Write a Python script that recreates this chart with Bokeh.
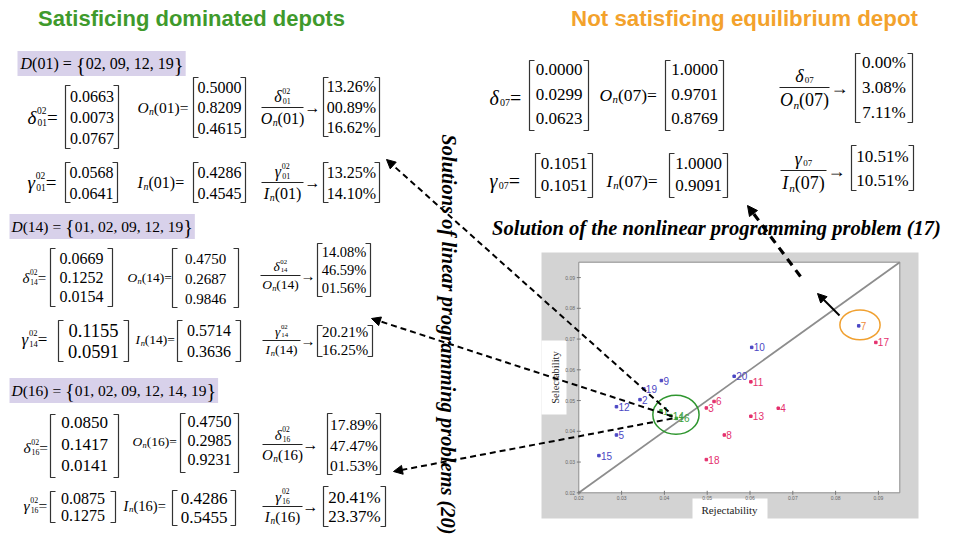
import math
from bokeh.plotting import figure
from bokeh.models import Range1d, ColumnDataSource, Arrow, NormalHead
from bokeh.core.properties import value
from bokeh.embed import file_html
from bokeh.resources import INLINE

# ---------------- data ----------------
dominated_01 = ["02", "09", "12", "19"]
dominated_14 = ["01", "02", "09", "12", "19"]
dominated_16 = ["01", "02", "09", "12", "14", "19"]

delta_01 = ["0.0663", "0.0073", "0.0767"]
on_01 = ["0.5000", "0.8209", "0.4615"]
ratio_delta_01 = ["13.26%", "00.89%", "16.62%"]
gamma_01 = ["0.0568", "0.0641"]
in_01 = ["0.4286", "0.4545"]
ratio_gamma_01 = ["13.25%", "14.10%"]

delta_14 = ["0.0669", "0.1252", "0.0154"]
on_14 = ["0.4750", "0.2687", "0.9846"]
ratio_delta_14 = ["14.08%", "46.59%", "01.56%"]
gamma_14 = ["0.1155", "0.0591"]
in_14 = ["0.5714", "0.3636"]
ratio_gamma_14 = ["20.21%", "16.25%"]

delta_16 = ["0.0850", "0.1417", "0.0141"]
on_16 = ["0.4750", "0.2985", "0.9231"]
ratio_delta_16 = ["17.89%", "47.47%", "01.53%"]
gamma_16 = ["0.0875", "0.1275"]
in_16 = ["0.4286", "0.5455"]
ratio_gamma_16 = ["20.41%", "23.37%"]

delta_07 = ["0.0000", "0.0299", "0.0623"]
on_07 = ["1.0000", "0.9701", "0.8769"]
ratio_delta_07 = ["0.00%", "3.08%", "7.11%"]
gamma_07 = ["0.1051", "0.1051"]
in_07 = ["1.0000", "0.9091"]
ratio_gamma_07 = ["10.51%", "10.51%"]

depot_ids = [1, 2, 3, 4, 5, 6, 7, 8, 9, 10, 11, 12, 13, 14, 15, 16, 17, 18, 19, 20]
rejectability = [0.0392, 0.0343, 0.0498, 0.0666, 0.0288, 0.0516, 0.0854, 0.0540, 0.0393, 0.0604,
                 0.0602, 0.0288, 0.0602, 0.0415, 0.0247, 0.0428, 0.0894, 0.0498, 0.0352, 0.0563]
selectability = [0.0467, 0.0503, 0.0476, 0.0475, 0.0388, 0.0497, 0.0743, 0.0388, 0.0565, 0.0673,
                 0.0561, 0.0480, 0.0449, 0.0451, 0.0321, 0.0442, 0.0689, 0.0308, 0.0538, 0.0579]
depot_status = ["dominated", "satisficing", "not", "not", "satisficing", "not", "equilibrium", "not",
                "satisficing", "satisficing", "not", "satisficing", "not", "dominated", "satisficing",
                "dominated", "not", "not", "satisficing", "satisficing"]
axis_ticks = [0.02, 0.03, 0.04, 0.05, 0.06, 0.07, 0.08, 0.09]
axis_tick_labels = ["0.02", "0.03", "0.04", "0.05", "0.06", "0.07", "0.08", "0.09"]

# ---------------- styles ----------------
SERIF = "Liberation Serif"
SANS = "Liberation Sans"
GREEN = "#3f9a2c"
ORANGE = "#f3a22c"
LAVENDER = "#d8d1ea"
BLUE = "#4b47c4"
PINK = "#e4306e"
DOT_COL = {"dominated": "#3aa23a", "satisficing": BLUE, "not": PINK, "equilibrium": BLUE}
LAB_COL = {"dominated": "#3aa23a", "satisficing": BLUE, "not": PINK, "equilibrium": "#f08a3a"}

FW, FH = 955, 544
p = figure(width=FW, height=FH, x_range=Range1d(0, FW), y_range=Range1d(FH, 0),
           output_backend="svg", toolbar_location=None, min_border=0,
           x_axis_location=None, y_axis_location=None, outline_line_color=None,
           background_fill_color="white", border_fill_color="white")
p.grid.visible = False

rows = dict(x=[], y=[], text=[], size=[], font=[], style=[], color=[], align=[], base=[], angle=[])


def T(x, y, s, size, style="normal", font=SERIF, color="black", align="left", base="middle", angle=0.0):
    rows["x"].append(x); rows["y"].append(y); rows["text"].append(s)
    rows["size"].append(f"{size:.1f}px"); rows["font"].append(font); rows["style"].append(style)
    rows["color"].append(color); rows["align"].append(align); rows["base"].append(base)
    rows["angle"].append(angle)


CW = {"0": .5, "1": .5, "2": .5, "3": .5, "4": .5, "5": .5, "6": .5, "7": .5, "8": .5, "9": .5,
      "(": .333, ")": .333, "=": .564, " ": .25, ".": .25, ",": .25, "%": .833, "{": .48, "}": .48,
      "δ": .5, "γ": .44, "O": .722, "I": .36, "n": .5, "D": .722}


def tw(s, size):
    return sum(CW.get(c, .5) for c in s) * size


def comp(parts, x, y, size, draw=True):
    """Compose an inline math expression; returns its width."""
    xc = x
    script_w = 0.0
    for text, kind in parts:
        if kind in ("it", "rm"):
            xc += script_w
            script_w = 0.0
            if draw:
                T(xc, y, text, size, "italic" if kind == "it" else "normal")
            xc += tw(text, size)
        elif kind == "sup":
            ss = size * 0.5
            if draw:
                T(xc, y - 0.36 * size, text, ss)
            script_w = max(script_w, tw(text, ss))
        elif kind in ("sub", "subit"):
            ss = size * (0.5 if kind == "sub" else 0.62)
            if draw:
                T(xc + 0.02 * size, y + 0.27 * size, text, ss, "italic" if kind == "subit" else "normal")
            script_w = max(script_w, tw(text, ss) + 0.02 * size)
    xc += script_w
    return xc - x


def dparts(sym, sup, sub):
    ps = [(sym, "it")]
    if sup:
        ps.append((sup, "sup"))
    ps.append((sub, "sub"))
    return ps


def nparts(sym, idx):
    return [(sym, "it"), ("n", "subit"), ("(" + idx + ")", "rm")]


EQ = [(" =", "rm")]

BX, BY = [], []


def matrix(x0, x1, y0, y1, vals, ys, size, arm=5):
    BX.append([x0 + arm, x0, x0, x0 + arm]); BY.append([y0, y0, y1, y1])
    BX.append([x1 - arm, x1, x1, x1 - arm]); BY.append([y0, y0, y1, y1])
    for v, yy in zip(vals, ys):
        T((x0 + x1) / 2, yy, v, size, align="center")


FX, FY = [], []


def frac(xc, yl, half, size, num, den):
    FX.append([xc - half, xc + half]); FY.append([yl, yl])
    wn = comp(num, 0, 0, size, draw=False)
    wd = comp(den, 0, 0, size, draw=False)
    comp(num, xc - wn / 2, yl - 0.66 * size, size)
    comp(den, xc - wd / 2, yl + 0.68 * size, size)


def arrow_sym(x, y, size):
    T(x, y, "→", size)


BOXES = dict(left=[], right=[], top=[], bottom=[])


def dset(x, y, idx, members, size, x_box):
    xc = x
    T(xc, y, "D", size, "italic"); xc += tw("D", size)
    head = "(" + idx + ") = "
    T(xc, y, head, size); xc += tw(head, size)
    T(xc, y + 0.5, "{", size * 1.3); xc += tw("{", size * 1.3)
    body = ", ".join(members)
    T(xc, y, body, size); xc += tw(body, size)
    T(xc, y + 0.5, "}", size * 1.3); xc += tw("}", size * 1.3)
    BOXES["left"].append(x_box); BOXES["right"].append(xc + 2)
    BOXES["top"].append(y - 12.5); BOXES["bottom"].append(y + 12.5)


# ---------------- titles ----------------
T(191, 18, "Satisficing dominated depots", 22, "bold", SANS, GREEN, "center")
T(744, 18, "Not satisficing equilibrium depot", 22.3, "bold", SANS, ORANGE, "center")

# ---------------- D sets ----------------
dset(20, 63, "01", dominated_01, 16, 17)
dset(11, 226, "14", dominated_14, 15.5, 9)
dset(11, 390, "16", dominated_16, 15.5, 9)
p.quad(left=BOXES["left"], right=BOXES["right"], top=BOXES["top"], bottom=BOXES["bottom"],
       fill_color=LAVENDER, line_color=None)

# ---------------- block D(01) ----------------
comp(dparts("δ", "02", "01") + EQ, 27, 117, 19)
matrix(65, 118, 85, 148, delta_01, [96, 117, 138], 16)
comp(nparts("O", "01") + EQ, 137, 107, 15.5)
matrix(193, 245, 77, 137, on_01, [87, 107, 128], 16)
frac(282, 107, 21, 16, dparts("δ", "02", "01"), nparts("O", "01"))
arrow_sym(304, 107, 16)
matrix(323, 379, 77, 136, ratio_delta_01, [86, 107, 127], 16)

comp(dparts("γ", "02", "01") + EQ, 27, 182, 19)
matrix(65, 117, 162, 202, gamma_01, [172, 193], 16)
comp(nparts("I", "01") + EQ, 137, 182, 16)
matrix(193, 245, 162, 202, in_01, [172, 193], 16)
frac(282, 182, 21, 16, dparts("γ", "02", "01"), nparts("I", "01"))
arrow_sym(304, 182, 16)
matrix(323, 379, 162, 202, ratio_gamma_01, [172, 193], 16)

# ---------------- block D(14) ----------------
comp(dparts("δ", "02", "14") + EQ, 22, 277, 15)
matrix(50, 112, 248, 306, delta_14, [258, 277, 296], 16)
comp(nparts("O", "14") + EQ, 127, 277, 13.5)
matrix(172, 238, 248, 307, on_14, [258, 278, 298], 15)
frac(280, 275, 20, 13.5, dparts("δ", "02", "14"), nparts("O", "14"))
arrow_sym(300, 275, 15)
matrix(317, 370, 243, 296, ratio_delta_14, [251, 269, 287], 14.5)

comp(dparts("γ", "02", "14") + EQ, 21, 339, 17)
matrix(58, 128, 320, 361, gamma_14, [330, 351], 18.5)
comp(nparts("I", "14") + EQ, 135, 339, 13.5)
matrix(177, 240, 320, 361, in_14, [330, 351], 16)
frac(281, 340, 19, 13.5, dparts("γ", "02", "14"), nparts("I", "14"))
arrow_sym(300, 340, 15)
matrix(317, 372, 325, 356, ratio_gamma_14, [331, 349], 15)

# ---------------- block D(16) ----------------
comp(dparts("δ", "02", "16") + EQ, 23, 447, 15.5)
matrix(50, 118, 414, 477, delta_16, [422, 444, 465], 17)
comp(nparts("O", "16") + EQ, 132, 441, 13.5)
matrix(180, 238, 413, 472, on_16, [421, 440, 459], 16)
frac(282, 444, 20, 15, dparts("δ", "02", "16"), nparts("O", "16"))
arrow_sym(302, 444, 16)
matrix(327, 380, 413, 474, ratio_delta_16, [424, 445, 465], 15.5)

comp(dparts("γ", "02", "16") + EQ, 23, 505, 15.5)
matrix(50, 115, 491, 522, gamma_16, [498, 515], 16)
comp(nparts("I", "16") + EQ, 123, 505, 14.5)
matrix(172, 235, 490, 525, in_16, [498, 517], 17)
frac(282, 506, 20, 15, dparts("γ", "02", "16"), nparts("I", "16"))
arrow_sym(302, 506, 16)
matrix(323, 385, 486, 526, ratio_gamma_16, [497, 516], 17)

# ---------------- block 07 ----------------
comp(dparts("δ", None, "07") + EQ, 489, 97, 20)
matrix(529, 588, 60, 130, delta_07, [69, 94, 118], 17)
comp(nparts("O", "07") + EQ, 599, 94, 17.5)
matrix(665, 723, 60, 130, on_07, [69, 94, 118], 17)
frac(804, 87, 25, 18, dparts("δ", None, "07"), nparts("O", "07"))
arrow_sym(830, 87, 18)
matrix(855, 912, 53, 122, ratio_delta_07, [62, 87, 112], 17)

comp(dparts("γ", None, "07") + EQ, 489, 180, 20)
matrix(535, 592, 153, 197, gamma_07, [163, 185], 17)
comp(nparts("I", "07") + EQ, 606, 180, 17.5)
matrix(669, 727, 153, 197, in_07, [163, 185], 17)
frac(803, 170, 23, 18, dparts("γ", None, "07"), nparts("I", "07"))
arrow_sym(827, 170, 18)
matrix(851, 913, 145, 190, ratio_gamma_07, [156, 180], 17)

# ---------------- captions ----------------
T(716, 227, "Solution of the nonlinear programming problem (17)", 20.5, "bold italic", SERIF, "black", "center")
T(448, 334, "Solutions of linear programming problems (20)", 20.5, "bold italic", SERIF, "black", "center",
  "middle", -math.pi / 2)

# ---------------- scatter panel (figure window) ----------------
p.quad(left=[541], right=[918], top=[252], bottom=[518], fill_color="#d3d3d3", line_color=None)
p.quad(left=[541, 692], right=[566, 767], top=[340, 498], bottom=[414, 521], fill_color="white", line_color=None)
T(555, 377, "Selectability", 10.5, "normal", SERIF, "#222222", "center", "middle", math.pi / 2)
T(729, 509, "Rejectability", 11, "normal", SERIF, "#222222", "center", "middle")

sx = Range1d(0.02, 0.095)
sy = Range1d(0.02, 0.095)
sub = p.subplot(x_source=sx, y_source=sy, x_target=Range1d(578.3, 899.3), y_target=Range1d(492.3, 261.7))
sub.quad(left=[sx.start], right=[sx.end], bottom=[sy.start], top=[sy.end],
         fill_color="white", line_color="#8c8c8c", line_width=1)
sub.line(x=[sx.start, sx.end], y=[sy.start, sy.end], line_color="#8d8d8d", line_width=1.8)
sub.scatter(x=axis_ticks, y=[sy.start] * len(axis_ticks), marker="dash", angle=math.pi / 2, size=4,
            line_color="#777777")
sub.scatter(x=[sx.start] * len(axis_ticks), y=axis_ticks, marker="dash", size=4, line_color="#777777")
sub.text(x=axis_ticks, y=[sy.start - 0.0009] * len(axis_ticks), text=axis_tick_labels,
         text_font_size="5px", text_color="#666666", text_align="center", text_baseline="top",
         text_font=value(SANS))
sub.text(x=[sx.start - 0.0009] * len(axis_ticks), y=axis_ticks, text=axis_tick_labels,
         text_font_size="5px", text_color="#666666", text_align="right", text_baseline="middle",
         text_font=value(SANS))

pts = ColumnDataSource(dict(x=rejectability, y=selectability, label=[str(d) for d in depot_ids],
                            dot=[DOT_COL[s] for s in depot_status], lab=[LAB_COL[s] for s in depot_status]))
sub.scatter(x="x", y="y", source=pts, marker="square", size=2.5, fill_color="dot", line_color="dot")
sub.text(x="x", y="y", text="label", source=pts, x_offset=2, text_font_size="10px", text_color="lab",
         text_baseline="middle", text_align="left", text_font=value(SANS))

sub.ellipse(x=[0.0427], y=[0.0454], width=[0.0108], height=[0.0127], fill_alpha=0,
            line_color="#2f962f", line_width=1.5)
sub.ellipse(x=[0.0857], y=[0.0746], width=[0.0094], height=[0.0097], fill_alpha=0,
            line_color="#f0a030", line_width=1.5)

# ---------------- brackets / fraction bars / text ----------------
p.multi_line(xs=BX, ys=BY, line_color="#333333", line_width=1.2)
p.multi_line(xs=FX, ys=FY, line_color="#222222", line_width=1.0)
src = ColumnDataSource(rows)
p.text(x="x", y="y", text="text", source=src, text_font_size="size", text_font="font",
       text_font_style="style", text_color="color", text_align="align", text_baseline="base",
       angle="angle")

# ---------------- arrows ----------------
dashed = [(668, 411, 386, 159), (672, 416, 371, 318), (672, 418, 393, 471)]
for xs_, ys_, xe_, ye_ in dashed:
    p.add_layout(Arrow(end=NormalHead(size=9, fill_color="black", line_color="black"),
                       x_start=xs_, y_start=ys_, x_end=xe_, y_end=ye_,
                       line_dash="6 4", line_width=2, line_color="black"))
p.add_layout(Arrow(end=NormalHead(size=10, fill_color="black", line_color="black"),
                   x_start=800, y_start=276, x_end=747, y_end=205,
                   line_dash="8 6", line_width=3.2, line_color="black"))
p.add_layout(Arrow(end=NormalHead(size=9, fill_color="black", line_color="black"),
                   x_start=839, y_start=315, x_end=817, y_end=293,
                   line_width=2, line_color="black"))

open("out.html", "w").write(file_html(p, INLINE))
